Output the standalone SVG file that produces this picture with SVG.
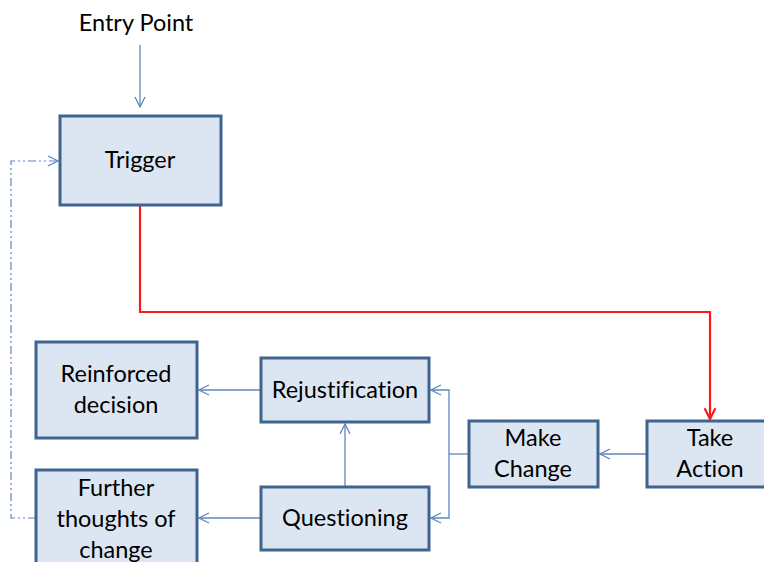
<svg xmlns="http://www.w3.org/2000/svg" width="764" height="562" viewBox="0 0 764 562">
  <style>
    .box { fill: #dce6f2; stroke: #41648f; stroke-width: 3; }
    .lbl { font-family: Lato, "Open Sans", "Liberation Sans", sans-serif; font-size: 23.5px; fill: #000; text-anchor: middle; font-variant-ligatures: none; font-feature-settings: "liga" 0; }
    .conn { fill: none; stroke: #5b87c0; stroke-width: 1.3; }
    .dash { fill: none; stroke: #5b87c0; stroke-width: 1.2; stroke-dasharray: 8 3 2 3 2 3; }
    .red { fill: none; stroke: #ff1a1a; stroke-width: 2.2; }
  </style>
  <defs>
    <marker id="open" viewBox="0 0 12 12" refX="11" refY="6" markerWidth="12" markerHeight="12" markerUnits="userSpaceOnUse" orient="auto">
      <path d="M1,1 L11,6 L1,11" fill="none" stroke="#5b87c0" stroke-width="1.3"/>
    </marker>
    <marker id="redhead" viewBox="0 0 12 12" refX="11" refY="6" markerWidth="13" markerHeight="13" markerUnits="userSpaceOnUse" orient="auto">
      <path d="M1,1 L11,6 L1,11" fill="none" stroke="#ff1a1a" stroke-width="2"/>
    </marker>
  </defs>

  <g id="connectors">
    <path class="conn" d="M140,45 V107" marker-end="url(#open)"/>
    <path class="dash" d="M36,518 H11 V161 H58" marker-end="url(#open)"/>
    <path class="red" d="M140,205 V312 H710 V419" marker-end="url(#redhead)"/>
    <path class="conn" d="M647,454 H600" marker-end="url(#open)"/>
    <path class="conn" d="M469,454 H449"/>
    <path class="conn" d="M449,454 V390 H431" marker-end="url(#open)"/>
    <path class="conn" d="M449,454 V518 H431" marker-end="url(#open)"/>
    <path class="conn" d="M261,390 H199" marker-end="url(#open)"/>
    <path class="conn" d="M345,487 V424" marker-end="url(#open)"/>
    <path class="conn" d="M261,518 H199" marker-end="url(#open)"/>
  </g>

  <g id="entry-point">
    <text class="lbl" x="136" y="31">Entry Point</text>
  </g>

  <g id="trigger">
    <rect class="box" x="60" y="116" width="161" height="89"/>
    <text class="lbl" x="140" y="168">Trigger</text>
  </g>

  <g id="reinforced-decision">
    <rect class="box" x="36" y="342" width="161" height="96"/>
    <text class="lbl" x="116" y="382">Reinforced</text>
    <text class="lbl" x="116" y="413">decision</text>
  </g>

  <g id="rejustification">
    <rect class="box" x="261" y="358" width="168" height="64"/>
    <text class="lbl" x="345" y="398">Rejustification</text>
  </g>

  <g id="further-thoughts">
    <rect class="box" x="36" y="470" width="161" height="100"/>
    <text class="lbl" x="116" y="496">Further</text>
    <text class="lbl" x="116" y="527">thoughts of</text>
    <text class="lbl" x="116" y="558">change</text>
  </g>

  <g id="questioning">
    <rect class="box" x="261" y="487" width="168" height="63"/>
    <text class="lbl" x="345" y="526">Questioning</text>
  </g>

  <g id="make-change">
    <rect class="box" x="469" y="421" width="129" height="66"/>
    <text class="lbl" x="533" y="446">Make</text>
    <text class="lbl" x="533" y="477">Change</text>
  </g>

  <g id="take-action">
    <rect class="box" x="647" y="421" width="130" height="66"/>
    <text class="lbl" x="710" y="446">Take</text>
    <text class="lbl" x="710" y="477">Action</text>
  </g>
</svg>
